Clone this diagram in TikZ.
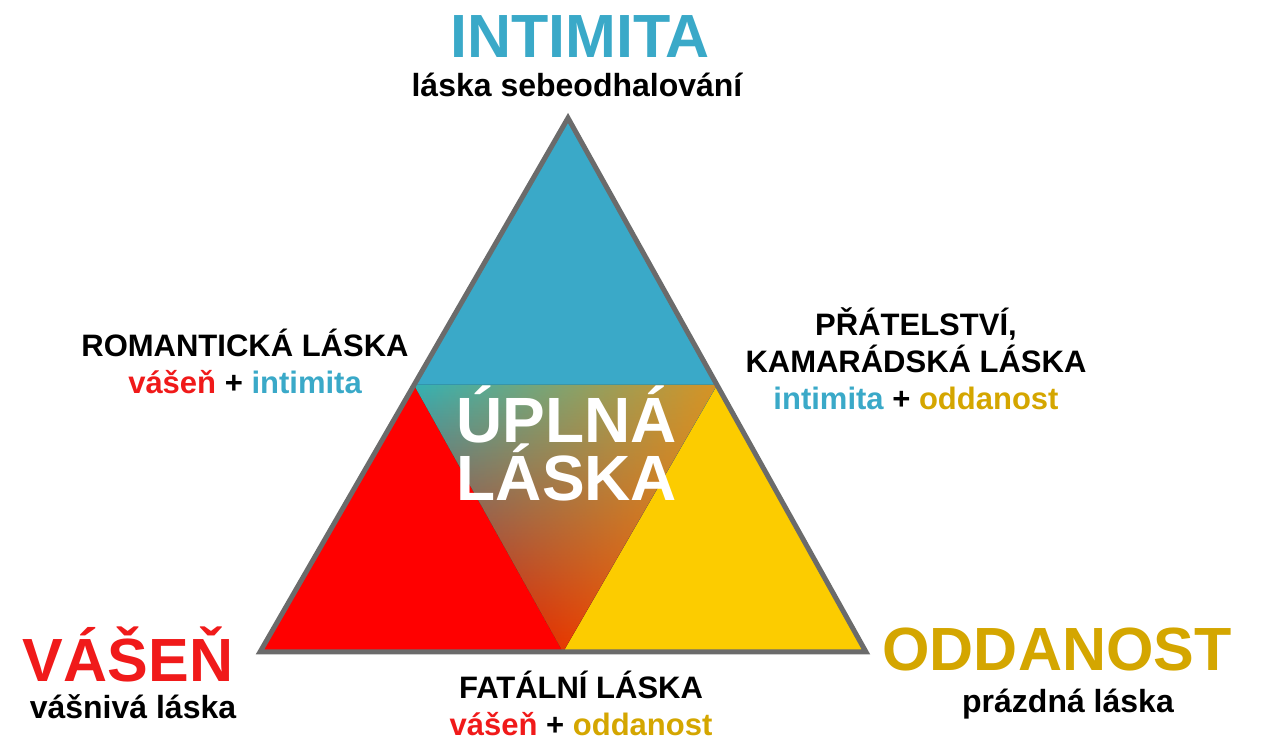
\documentclass[tikz,border=0pt]{standalone}
\usepackage{fontspec}
\setmainfont{Liberation Sans}
\usepackage{tikz}
\usetikzlibrary{calc,fadings}
\definecolor{lblue}{HTML}{3AA9C8}
\definecolor{lred}{HTML}{FF0000}
\definecolor{lyell}{HTML}{FCCC00}
\definecolor{tred}{HTML}{F01A1A}
\definecolor{tgold}{HTML}{D4A600}
\definecolor{edge}{HTML}{6B6B6B}
\tikzset{
  lbl_big/.style = {inner sep=0pt, align=center, font=\bfseries\fontsize{61}{64}\selectfont},
  lbl_sub/.style = {inner sep=0pt, align=center, font=\bfseries\fontsize{32}{38}\selectfont},
  lbl_pair/.style = {inner sep=0pt, align=center, font=\bfseries\fontsize{31}{37}\selectfont},
  lbl_mid/.style = {inner sep=0pt, align=center, white, font=\bfseries\fontsize{64}{58}\selectfont}
}

\begin{document}
\begin{tikzpicture}[x=1pt,y=1pt,line join=miter]
  \useasboundingbox (0,0) rectangle (1278,743);
  % corners of the triangle
  \coordinate (top) at (568,625);
  \coordinate (bl) at (260,91);
  \coordinate (br) at (866,91);
  \coordinate (ml) at ($(top)!0.5!(bl)$);
  \coordinate (mr) at ($(top)!0.5!(br)$);
  \coordinate (mb) at ($(bl)!0.5!(br)$);
  % three corner parts
  \fill[lblue] (top) -- (ml) -- (mr) -- cycle;
  \fill[lred] (bl) -- (ml) -- (mb) -- cycle;
  \fill[lyell] (br) -- (mr) -- (mb) -- cycle;
  % middle part, mixed
  \fill[top color=lblue!90!green, bottom color=lred!85!black, shading angle=0] (ml) -- (mr) -- (mb) -- cycle;
  \fill[orange!90!yellow, path fading=west, opacity=.8] (ml) -- (mr) -- (mb) -- cycle;
  \draw[edge, line width=5pt] (top) -- (bl) -- (br) -- cycle;

  \node[lbl_big, lblue] (intim) at (580,706) {INTIMITA};
  \node[lbl_sub] (intimsub) at (577,658) {láska sebeodhalování};
  \node[lbl_big, tred] (vasen) at (128,89) {VÁŠEŇ};
  \node[lbl_sub] (vasensub) at (133,36) {vášnivá láska};
  \node[lbl_big, tgold] (oddan) at (1057,93) {ODDANOST};
  \node[lbl_sub] (oddansub) at (1068,39) {prázdná láska};

  \node[lbl_pair] (roman) at (245,382) {ROMANTICKÁ LÁSKA\\
    \textcolor{tred}{vášeň} + \textcolor{lblue}{intimita}};
  \node[lbl_pair] (prat) at (916,384) {PŘÁTELSTVÍ,\\KAMARÁDSKÁ LÁSKA\\
    \textcolor{lblue}{intimita} + \textcolor{tgold}{oddanost}};
  \node[lbl_pair] (fatal) at (581,40) {FATÁLNÍ LÁSKA\\
    \textcolor{tred}{vášeň} + \textcolor{tgold}{oddanost}};

  \node[lbl_mid] (upl) at (567,300) {ÚPLNÁ\\LÁSKA};
\end{tikzpicture}
\end{document}
